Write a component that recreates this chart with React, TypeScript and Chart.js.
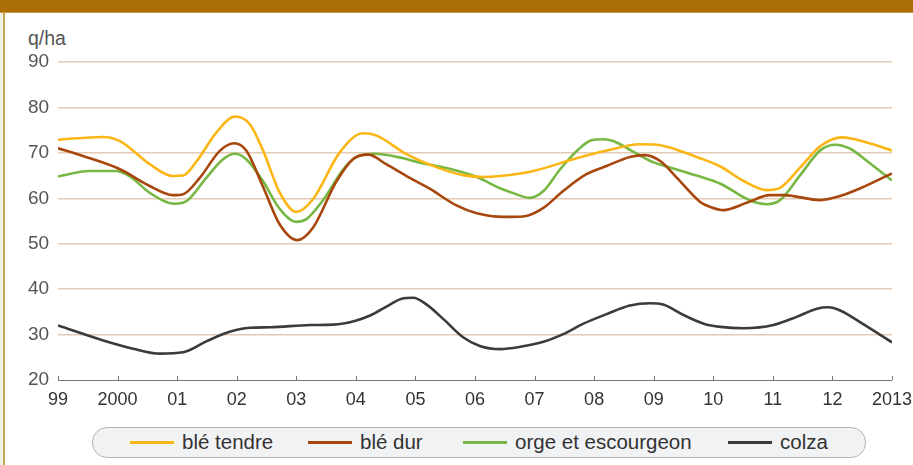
import { useEffect, useRef } from "react";
import { Chart, registerables } from "chart.js";

Chart.register(...registerables);

const yearTicks = [1999, 2000, 2001, 2002, 2003, 2004, 2005, 2006, 2007, 2008, 2009, 2010, 2011, 2012, 2013];
const tickLabels = ["99", "2000", "01", "02", "03", "04", "05", "06", "07", "08", "09", "10", "11", "12", "2013"];
const unitLabel = "q/ha";
const seriesNames = ["blé tendre", "blé dur", "orge et escourgeon", "colza"];
const seriesColors = ["#fbb615", "#a8470d", "#76b843", "#3b3b3b"];

const bleTendreYears = [1999.0, 1999.76, 2000.04, 2000.54, 2000.93, 2001.1, 2001.33, 2001.66, 2001.97, 2002.22, 2002.44, 2002.72, 2003.0, 2003.28, 2003.73, 2004.12, 2004.35, 2004.85, 2005.36, 2005.8, 2006.14, 2006.42, 2006.98, 2007.65, 2008.21, 2008.77, 2009.05, 2009.27, 2009.72, 2010.12, 2010.51, 2010.9, 2011.12, 2011.46, 2011.8, 2012.16, 2012.58, 2013.0];
const bleTendreValues = [72.9, 73.5, 72.6, 67.5, 64.9, 65.0, 68.2, 74.5, 78.0, 76.3, 70.6, 61.3, 57.0, 59.8, 70.1, 74.3, 73.8, 69.7, 66.8, 65.1, 64.7, 64.9, 66.0, 68.6, 70.5, 71.9, 71.8, 71.2, 69.1, 67.0, 63.8, 61.8, 62.3, 66.8, 71.5, 73.4, 72.3, 70.5];

const bleDurYears = [1999.0, 1999.42, 2000.04, 2000.54, 2000.93, 2001.1, 2001.38, 2001.72, 2001.96, 2002.16, 2002.44, 2002.72, 2003.02, 2003.28, 2003.67, 2003.96, 2004.21, 2004.51, 2004.85, 2005.24, 2005.68, 2006.03, 2006.48, 2006.81, 2007.15, 2007.48, 2007.87, 2008.21, 2008.6, 2008.85, 2009.11, 2009.39, 2009.78, 2009.95, 2010.17, 2010.56, 2010.95, 2011.18, 2011.8, 2012.13, 2012.47, 2013.0];
const bleDurValues = [71.0, 69.3, 66.4, 62.7, 60.7, 60.9, 64.5, 70.5, 72.1, 70.5, 62.6, 54.3, 50.8, 53.5, 63.6, 68.7, 69.6, 67.5, 64.9, 62.1, 58.5, 56.7, 55.9, 56.0, 57.9, 61.6, 65.3, 67.1, 69.1, 69.5, 68.2, 64.5, 59.2, 58.1, 57.4, 59.0, 60.7, 60.7, 59.6, 60.5, 62.2, 65.5];

const orgeYears = [1999.0, 1999.53, 1999.95, 2000.2, 2000.54, 2000.96, 2001.16, 2001.49, 2001.77, 2001.97, 2002.16, 2002.44, 2002.72, 2003.0, 2003.17, 2003.45, 2003.79, 2004.01, 2004.32, 2004.8, 2005.08, 2005.47, 2006.03, 2006.25, 2006.42, 2006.59, 2006.92, 2007.15, 2007.43, 2007.74, 2007.96, 2008.16, 2008.32, 2008.72, 2009.0, 2009.27, 2009.72, 2010.12, 2010.62, 2010.9, 2011.12, 2011.46, 2011.8, 2012.05, 2012.3, 2012.58, 2013.0];
const orgeValues = [64.8, 66.0, 66.0, 64.9, 61.2, 58.8, 59.4, 64.5, 68.6, 69.8, 68.6, 63.8, 57.7, 54.8, 55.4, 59.6, 66.4, 69.1, 69.8, 68.8, 67.8, 66.8, 64.7, 63.3, 62.2, 61.4, 60.1, 61.6, 66.4, 70.8, 72.8, 73.0, 72.6, 69.8, 67.9, 66.8, 65.0, 63.2, 59.5, 58.7, 59.6, 65.1, 70.6, 71.8, 70.9, 68.2, 63.9];

const colzaYears = [1999.0, 1999.76, 2000.26, 2000.71, 2001.1, 2001.49, 2001.88, 2002.22, 2002.56, 2003.23, 2003.62, 2003.98, 2004.24, 2004.52, 2004.77, 2004.96, 2005.19, 2005.47, 2005.8, 2006.08, 2006.42, 2006.76, 2007.15, 2007.48, 2007.82, 2008.21, 2008.6, 2008.94, 2009.16, 2009.5, 2009.84, 2010.12, 2010.51, 2011.01, 2011.4, 2011.74, 2011.93, 2012.13, 2012.47, 2013.0];
const colzaValues = [32.0, 28.7, 26.9, 25.8, 26.1, 28.5, 30.6, 31.5, 31.6, 32.1, 32.2, 33.0, 34.2, 36.2, 37.9, 38.1, 36.6, 33.4, 29.4, 27.5, 26.8, 27.3, 28.4, 30.1, 32.4, 34.5, 36.4, 36.9, 36.6, 34.3, 32.4, 31.7, 31.4, 32.1, 33.9, 35.7, 36.0, 35.3, 32.7, 28.3];

const seriesYears = [bleTendreYears, bleDurYears, orgeYears, colzaYears];
const seriesValues = [bleTendreValues, bleDurValues, orgeValues, colzaValues];

const FONT = "'Liberation Sans', Arial, Helvetica, sans-serif";
const legendLefts = [130, 308, 463, 728];

const upTicks = {
  id: "upTicks",
  afterDraw(chart: any) {
    const xs = chart.scales.x;
    const ctx = chart.ctx;
    ctx.save();
    ctx.strokeStyle = "#777";
    ctx.lineWidth = 1;
    xs.ticks.forEach((t: any) => {
      const px = Math.round(xs.getPixelForValue(t.value)) + 0.5;
      ctx.beginPath();
      ctx.moveTo(px, xs.top);
      ctx.lineTo(px, xs.top - 4);
      ctx.stroke();
    });
    ctx.restore();
  },
};

export default function App() {
  const ref = useRef<HTMLCanvasElement | null>(null);
  useEffect(() => {
    if (!ref.current) return;
    const chart = new Chart(ref.current, {
      type: "line",
      data: {
        datasets: seriesNames.map((name, i) => ({
          label: name,
          data: seriesYears[i].map((x, j) => ({ x, y: seriesValues[i][j] })),
          borderColor: seriesColors[i],
          backgroundColor: seriesColors[i],
          borderWidth: 2.6,
          pointRadius: 0,
          cubicInterpolationMode: "monotone" as const,
          fill: false,
        })),
      },
      options: {
        animation: false,
        responsive: false,
        maintainAspectRatio: false,
        layout: { padding: { top: 62, left: 28, right: 21, bottom: 10 } },
        plugins: { legend: { display: false }, tooltip: { enabled: false }, title: { display: false } },
        scales: {
          x: {
            type: "linear",
            min: yearTicks[0],
            max: yearTicks[yearTicks.length - 1],
            afterBuildTicks: (s: any) => {
              s.ticks = yearTicks.map((v) => ({ value: v }));
            },
            ticks: {
              stepSize: 1,
              autoSkip: false,
              maxRotation: 0,
              padding: 1,
              color: "#333",
              font: { family: FONT, size: 18 },
              callback: (v: any) => tickLabels[yearTicks.indexOf(Math.round(Number(v)))] ?? "",
            },
            grid: { display: true, drawOnChartArea: false, drawTicks: true, tickLength: 8, color: "rgba(0,0,0,0)" },
            border: { display: true, color: "#777", width: 1 },
            afterFit: (s: any) => {
              s.height = 30;
            },
          },
          y: {
            min: 20,
            max: 90,
            ticks: {
              stepSize: 10,
              color: "#555",
              crossAlign: "far",
              padding: 0,
              font: { family: FONT, size: 19 },
            },
            grid: {
              color: (c: any) => (c.tick && c.tick.value === 20 ? "rgba(0,0,0,0)" : "#e3cab5"),
              lineWidth: 1.5,
              drawTicks: false,
            },
            border: { display: false },
            afterFit: (s: any) => {
              s.width = 30;
            },
          },
        },
      },
      plugins: [upTicks],
    });
    return () => chart.destroy();
  }, []);

  return (
    <div style={{ position: "absolute", left: 0, top: 0, width: 913, height: 465, background: "#fff", overflow: "hidden", fontFamily: FONT }}>
      <div style={{ position: "absolute", left: 0, top: 0, width: 913, height: 12, background: "#ab6e06" }} />
      <div style={{ position: "absolute", left: 0, top: 12, width: 913, height: 1, background: "#c99a4a" }} />
      <div style={{ position: "absolute", left: 0, top: 13, width: 3, height: 452, background: "#eef2e2" }} />
      <div style={{ position: "absolute", left: 3, top: 13, width: 2, height: 452, background: "#c9a451" }} />
      <div style={{ position: "absolute", left: 28, top: 27, fontSize: 19.5, color: "#555", lineHeight: "22px" }}>{unitLabel}</div>
      <canvas ref={ref} width={913} height={420} style={{ position: "absolute", left: 0, top: 0, width: 913, height: 420 }} />
      <div
        style={{
          position: "absolute",
          left: 92,
          top: 427,
          width: 772,
          height: 29,
          background: "#f1f2f4",
          border: "1px solid #b4b4b4",
          borderRadius: 15,
        }}
      />
      {seriesNames.map((name, i) => (
        <div key={name} style={{ position: "absolute", left: legendLefts[i], top: 430, height: 24, display: "flex", alignItems: "center" }}>
          <div style={{ width: 44, height: 3, background: seriesColors[i], marginRight: 8 }} />
          <span style={{ fontSize: 20.5, color: "#333", whiteSpace: "nowrap" }}>{name}</span>
        </div>
      ))}
    </div>
  );
}
